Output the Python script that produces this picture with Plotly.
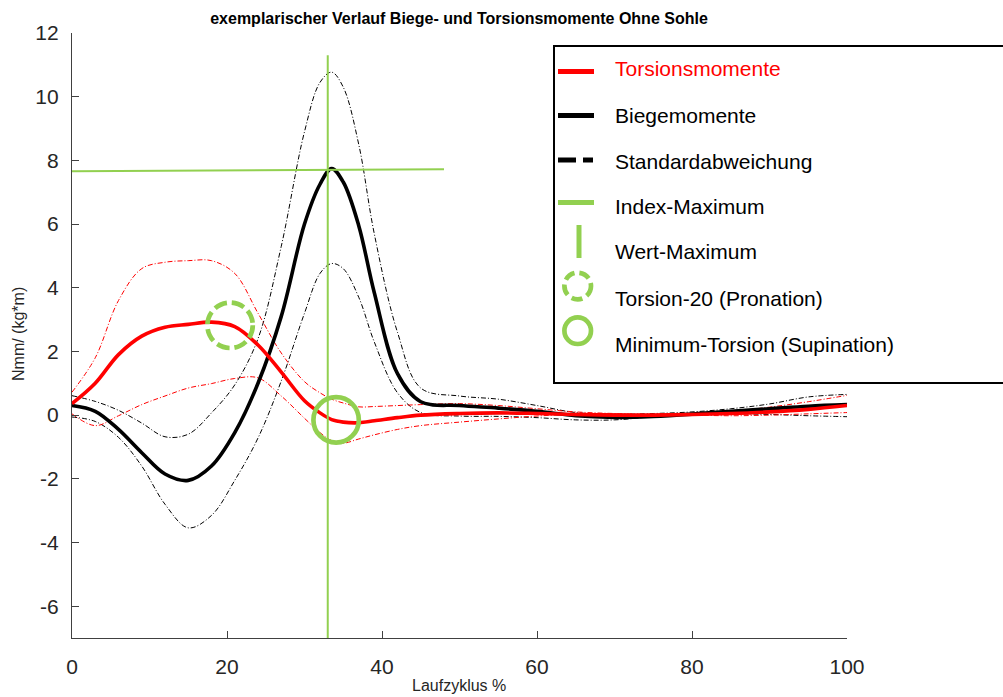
import plotly.graph_objects as go

# ---------------- data ----------------
x_pct = [0, 3, 6, 9, 12, 15, 18, 21, 24, 27, 30, 32, 33.5, 35, 37, 39, 42, 45,
         50, 55, 60, 65, 70, 75, 80, 85, 90, 95, 100]

biege_mean = [0.30, 0.12, -0.45, -1.18, -1.85, -2.05, -1.60, -0.55, 1.00, 3.10, 6.00, 7.25, 7.74,
              7.32, 5.95, 3.85, 1.30, 0.42, 0.30, 0.22, 0.12, -0.02, -0.07, -0.04, 0.03, 0.12,
              0.20, 0.28, 0.33]
biege_upper = [0.61, 0.43, 0.15, -0.25, -0.68, -0.60, 0.07, 0.95, 2.40, 5.30, 8.90, 10.45, 10.77,
               10.30, 8.50, 5.70, 2.60, 0.85, 0.60, 0.50, 0.30, 0.08, 0.03, 0.05, 0.10, 0.20,
               0.35, 0.57, 0.65]
biege_lower = [-0.06, -0.20, -0.70, -1.60, -2.80, -3.54, -3.15, -2.05, -0.72, 1.07, 3.20, 4.45,
               4.76, 4.60, 3.70, 2.30, 0.70, 0.08, -0.03, -0.04, -0.08, -0.15, -0.15, -0.05,
               0.02, 0.04, 0.02, -0.02, -0.05]

torsion_mean = [0.36, 1.00, 1.90, 2.48, 2.76, 2.85, 2.92, 2.78, 2.20, 1.35, 0.45, 0.07, -0.14,
                -0.22, -0.24, -0.18, -0.08, 0.00, 0.05, 0.07, 0.05, 0.02, 0.00, 0.00, 0.02, 0.05,
                0.10, 0.18, 0.30]
torsion_upper = [0.72, 1.80, 3.60, 4.60, 4.80, 4.85, 4.85, 4.45, 3.20, 1.95, 1.05, 0.70, 0.50,
                 0.38, 0.26, 0.27, 0.30, 0.33, 0.36, 0.30, 0.20, 0.10, 0.05, 0.03, 0.05, 0.12,
                 0.25, 0.42, 0.62]
torsion_lower = [0.04, -0.33, -0.02, 0.33, 0.60, 0.85, 0.99, 1.15, 1.17, 0.60, -0.10, -0.55,
                 -0.80, -0.88, -0.75, -0.62, -0.45, -0.33, -0.22, -0.12, -0.03, 0.03, 0.04, 0.02,
                 0.00, -0.02, 0.00, 0.04, 0.08]

index_max_x = [33.0, 33.0]
index_max_y = [-7.0, 11.3]
wert_max_x = [0.0, 48.0]
wert_max_y = [7.66, 7.72]

torsion20_xy = [20.4, 2.82]
min_torsion_xy = [34.08, -0.15]

x_ticks = [0, 20, 40, 60, 80, 100]
x_ticklabels = ["0", "20", "40", "60", "80", "100"]
y_ticks = [-6, -4, -2, 0, 2, 4, 6, 8, 10, 12]
y_ticklabels = ["-6", "-4", "-2", "0", "2", "4", "6", "8", "10", "12"]

legend_labels = ["Torsionsmomente", "Biegemomente", "Standardabweichung", "Index-Maximum",
                 "Wert-Maximum", "Torsion-20 (Pronation)", "Minimum-Torsion (Supination)"]

title_text = "exemplarischer Verlauf Biege- und Torsionsmomente Ohne Sohle"
x_title = "Laufzyklus %"
y_title = "Nmm/ (kg*m)"

# ---------------- styles ----------------
RED = "#ff0000"
BLACK = "#000000"
GREEN = "#92D050"
AXIS = "#404040"
TXT = "#262626"
FONT = "Liberation Sans, Arial, sans-serif"
SD_DASH = "5px,2px,1px,2px"

W, H = 1003, 697
ML, MR, MT, MB = 72, 156, 33, 59
PW = W - ML - MR
PH = H - MT - MB


def px_x(p):
    return (p - ML) / PW


def px_y(p):
    return (H - MB - p) / PH


fig = go.Figure()

for ys, col in [(biege_upper, BLACK), (biege_lower, BLACK),
                (torsion_upper, RED), (torsion_lower, RED)]:
    fig.add_trace(go.Scatter(x=x_pct, y=ys, mode="lines",
                             line=dict(color=col, width=1, dash=SD_DASH, shape="spline", smoothing=1.0),
                             hoverinfo="skip"))

fig.add_trace(go.Scatter(x=x_pct, y=biege_mean, mode="lines", name=legend_labels[1],
                         line=dict(color=BLACK, width=3.6, shape="spline", smoothing=1.0)))
fig.add_trace(go.Scatter(x=x_pct, y=torsion_mean, mode="lines", name=legend_labels[0],
                         line=dict(color=RED, width=3.6, shape="spline", smoothing=1.0)))

fig.add_trace(go.Scatter(x=index_max_x, y=index_max_y, mode="lines",
                         line=dict(color=GREEN, width=2), cliponaxis=False))
fig.add_trace(go.Scatter(x=wert_max_x, y=wert_max_y, mode="lines",
                         line=dict(color=GREEN, width=2), cliponaxis=False))

shapes = []
R_CIRC = 22.7
shapes.append(dict(type="circle", xref="x", yref="y", xsizemode="pixel", ysizemode="pixel",
                   xanchor=torsion20_xy[0], yanchor=torsion20_xy[1],
                   x0=-R_CIRC, x1=R_CIRC, y0=-R_CIRC, y1=R_CIRC,
                   line=dict(color=GREEN, width=4.7, dash="13px,5px")))
shapes.append(dict(type="circle", xref="x", yref="y", xsizemode="pixel", ysizemode="pixel",
                   xanchor=min_torsion_xy[0], yanchor=min_torsion_xy[1],
                   x0=-R_CIRC, x1=R_CIRC, y0=-R_CIRC, y1=R_CIRC,
                   line=dict(color=GREEN, width=4.7)))

# ---------------- manual legend ----------------
shapes.append(dict(type="rect", xref="paper", yref="paper",
                   x0=px_x(554), x1=px_x(1012), y0=px_y(383), y1=px_y(46),
                   line=dict(color=BLACK, width=2), fillcolor="white", layer="above"))


def hline(x0, x1, y, col, w):
    return dict(type="line", xref="paper", yref="paper", x0=px_x(x0), x1=px_x(x1),
                y0=px_y(y), y1=px_y(y), line=dict(color=col, width=w), layer="above")


shapes.append(hline(558, 594, 71.5, RED, 5))
shapes.append(hline(558, 594, 115.5, BLACK, 5))
shapes.append(hline(558, 576, 160, BLACK, 5))
shapes.append(hline(583, 593, 160, BLACK, 5))
shapes.append(hline(558, 594, 202.5, GREEN, 5))
shapes.append(dict(type="line", xref="paper", yref="paper", x0=px_x(579), x1=px_x(579),
                   y0=px_y(258), y1=px_y(225), line=dict(color=GREEN, width=5), layer="above"))
R_LEG = 13.3
shapes.append(dict(type="circle", xref="paper", yref="paper", xsizemode="pixel", ysizemode="pixel",
                   xanchor=px_x(577.7), yanchor=px_y(286), x0=-R_LEG, x1=R_LEG, y0=-R_LEG, y1=R_LEG,
                   line=dict(color=GREEN, width=4.7, dash="11px,5px"), layer="above"))
shapes.append(dict(type="circle", xref="paper", yref="paper", xsizemode="pixel", ysizemode="pixel",
                   xanchor=px_x(577.7), yanchor=px_y(330.7), x0=-R_LEG, x1=R_LEG, y0=-R_LEG, y1=R_LEG,
                   line=dict(color=GREEN, width=4.7), layer="above"))

annotations = []
leg_y = [69, 115, 161, 206, 252, 298, 344]
for i, (lab, yy) in enumerate(zip(legend_labels, leg_y)):
    annotations.append(dict(text=lab, xref="paper", yref="paper", x=px_x(613), y=px_y(yy),
                            xanchor="left", yanchor="middle", showarrow=False,
                            font=dict(family=FONT, size=21, color=RED if i == 0 else BLACK)))

annotations.append(dict(text=y_title, xref="paper", yref="paper", x=px_x(18), y=px_y(334),
                        xanchor="center", yanchor="middle", textangle=-90, showarrow=False,
                        font=dict(family=FONT, size=16, color=TXT)))
annotations.append(dict(text=x_title, xref="paper", yref="paper", x=px_x(459), y=px_y(696),
                        xanchor="center", yanchor="bottom", showarrow=False,
                        font=dict(family=FONT, size=16, color=TXT)))

fig.update_layout(
    width=W, height=H,
    margin=dict(l=ML, r=MR, t=MT, b=MB, pad=0),
    plot_bgcolor="white", paper_bgcolor="white",
    showlegend=False,
    font=dict(family=FONT, color=TXT),
    title=dict(text="<b>" + title_text + "</b>", x=px_x(459), xref="paper", xanchor="center",
               y=1 - 18 / H, yanchor="middle", font=dict(family=FONT, size=16, color=BLACK)),
    shapes=shapes,
    annotations=annotations,
)

fig.update_xaxes(range=[0, 100], tickvals=x_ticks, ticktext=x_ticklabels, ticks="inside",
                 ticklen=7, tickwidth=1, tickcolor=AXIS, showline=True, linecolor=AXIS,
                 linewidth=1.3, showgrid=False, zeroline=False,
                 tickfont=dict(family=FONT, size=21, color=TXT), ticklabelstandoff=10)
fig.update_yaxes(range=[-7, 12], tickvals=y_ticks, ticktext=y_ticklabels, ticks="inside",
                 ticklen=7, tickwidth=1, tickcolor=AXIS, showline=True, linecolor=AXIS,
                 linewidth=1.3, showgrid=False, zeroline=False,
                 tickfont=dict(family=FONT, size=21, color=TXT), ticklabelstandoff=8)

fig.write_html("out.html", config={"displayModeBar": False},
               post_script="document.body.style.margin='0px';")
